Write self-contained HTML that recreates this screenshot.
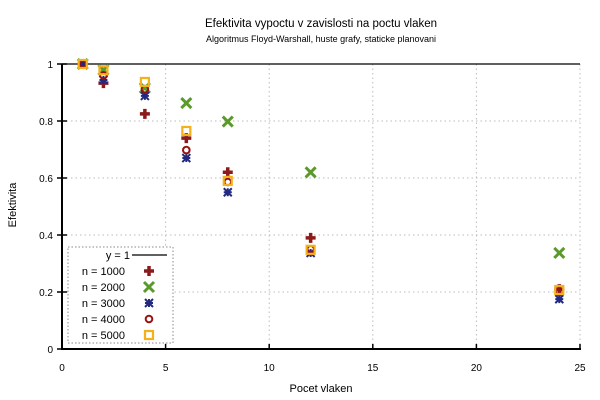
<!DOCTYPE html>
<html><head><meta charset="utf-8"><style>
body{margin:0;background:#fff}
svg{display:block;font-family:"Liberation Sans",sans-serif}
</style></head><body>
<svg id="c" width="600" height="400">
<text x="321" y="27" text-anchor="middle" font-size="11.5">Efektivita vypoctu v zavislosti na poctu vlaken</text>
<text x="321" y="42" text-anchor="middle" font-size="9">Algoritmus Floyd-Warshall, huste grafy, staticke planovani</text>
<text x="16" y="205" text-anchor="middle" font-size="11" transform="rotate(-90 16 205)">Efektivita</text>
<text x="321" y="392" text-anchor="middle" font-size="11">Pocet vlaken</text>
<g id="grid"></g><g id="axes"></g><g id="marks"></g><g id="legend"></g>
</svg>
<script>
const xTicks=[0,5,10,15,20,25];
const yTicks=[0,0.2,0.4,0.6,0.8,1];
const yTickLabels=["0","0.2","0.4","0.6","0.8","1"];
const threads=[1,2,4,6,8,12,24];
const n1000=[1,0.933,0.825,0.74,0.62,0.39,0.21];
const n2000=[1,0.979,0.916,0.863,0.798,0.62,0.337];
const n3000=[1,0.944,0.888,0.67,0.55,0.337,0.175];
const n4000=[1,0.96,0.912,0.698,0.586,0.35,0.2];
const n5000=[1,0.978,0.937,0.765,0.59,0.348,0.207];
const seriesNames=["n = 1000","n = 2000","n = 3000","n = 4000","n = 5000"];
const NS="http://www.w3.org/2000/svg";
const X=v=>62+v*(518/25), Y=v=>349-v*285;
function mk(t,a,p){const e=document.createElementNS(NS,t);for(const k in a)e.setAttribute(k,a[k]);p.appendChild(e);return e;}
const grid=document.getElementById('grid'),axes=document.getElementById('axes'),marks=document.getElementById('marks'),leg=document.getElementById('legend');
xTicks.forEach(v=>{
 if(v>0){const l=mk('line',{x1:X(v),x2:X(v),y1:64,y2:349,stroke:'#bbb','stroke-dasharray':'1.5,3'},grid);
 }
 const t=mk('line',{x1:X(v),x2:X(v),y1:349,y2:344,stroke:'#000','stroke-width':1.5},axes);
 
 const tx=mk('text',{x:X(v),y:371,'text-anchor':'middle','font-size':10},axes);tx.textContent=v;
 
});
yTicks.forEach((v,i)=>{
 if(v>0&&v<1){const l=mk('line',{x1:62,x2:580,y1:Y(v),y2:Y(v),stroke:'#bbb','stroke-dasharray':'1.5,3'},grid);
 }
 const t=mk('line',{x1:57,x2:67,y1:Y(v),y2:Y(v),stroke:'#000','stroke-width':1.5},axes);
 
 const tx=mk('text',{x:53,y:Y(v)+4,'text-anchor':'end','font-size':10},axes);tx.textContent=yTickLabels[i];
 
});
let a=mk('line',{x1:62,x2:62,y1:64,y2:350,stroke:'#000','stroke-width':2},axes);

a=mk('line',{x1:61,x2:581,y1:349,y2:349,stroke:'#000','stroke-width':2},axes);

a=mk('line',{x1:62,x2:580,y1:Y(1),y2:Y(1),stroke:'#000','stroke-width':1.3},axes);

function marker(k,cx,cy,p){
 const g=mk('g',{},p);
 if(k===0){mk('path',{d:`M${cx-5} ${cy}h10M${cx} ${cy-5}v10`,stroke:'#8b1a1a','stroke-width':3.5},g);}
 else if(k===1){mk('path',{d:`M${cx-5} ${cy-5}L${cx+5} ${cy+5}M${cx-5} ${cy+5}L${cx+5} ${cy-5}`,stroke:'#5a9a2a','stroke-width':3},g);}
 else if(k===2){mk('path',{d:`M${cx-4} ${cy-4}L${cx+4} ${cy+4}M${cx-4} ${cy+4}L${cx+4} ${cy-4}M${cx-4} ${cy}h8M${cx} ${cy-4}v8`,stroke:'#222a80','stroke-width':2},g);}
 else if(k===3){mk('circle',{cx,cy,r:3.3,fill:'none',stroke:'#9a0f0f','stroke-width':2},g);}
 else {mk('rect',{x:cx-4,y:cy-4,width:8,height:8,fill:'none',stroke:'#f5b11a','stroke-width':2.2},g);}
 return g;
}
[n1000,n2000,n3000,n4000,n5000].forEach((s,k)=>{
 s.forEach((v,i)=>{const m=marker(k,X(threads[i]),Y(v),marks);
 
 });
});
const box=mk('rect',{x:68,y:247,width:105,height:96,fill:'#fff',stroke:'#888','stroke-dasharray':'1.5,2'},leg);

let t=mk('text',{x:130,y:259,'text-anchor':'end','font-size':11},leg);t.textContent='y = 1';

let l=mk('line',{x1:132,x2:167,y1:255,y2:255,stroke:'#000','stroke-width':1.3},leg);

seriesNames.forEach((n,k)=>{
 const y=271+k*16;
 const tt=mk('text',{x:125,y:y+4,'text-anchor':'end','font-size':11},leg);tt.textContent=n;
 
 const m=marker(k,149,y,leg);
 
});
</script>
</body></html>
